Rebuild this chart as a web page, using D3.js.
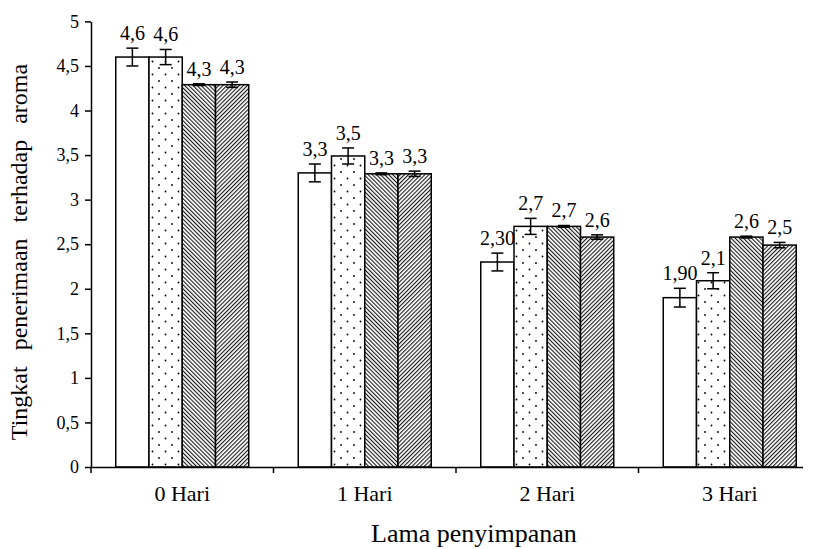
<!DOCTYPE html>
<html><head><meta charset="utf-8">
<script src="https://cdn.jsdelivr.net/npm/d3@7/dist/d3.min.js"></script>
<style>
html,body{margin:0;padding:0;background:#fff;}
svg{display:block;font-family:"Liberation Serif","Times New Roman",serif;}
</style></head>
<body>
<svg id="chart" width="813" height="549"></svg>
<script>
// ---- data ----
const categories = ["0 Hari", "1 Hari", "2 Hari", "3 Hari"];
const seriesNames = ["A", "B", "C", "D"];
const seriesA = [4.60, 3.30, 2.30, 1.90];
const seriesB = [4.60, 3.49, 2.70, 2.09];
const seriesC = [4.29, 3.29, 2.70, 2.58];
const seriesD = [4.29, 3.29, 2.58, 2.49];
const errorA = [0.10, 0.10, 0.10, 0.105];
const errorB = [0.085, 0.09, 0.09, 0.09];
const errorC = [0.01, 0.01, 0.01, 0.01];
const errorD = [0.03, 0.03, 0.025, 0.03];
const labelA = ["4,6", "3,3", "2,30", "1,90"];
const labelB = ["4,6", "3,5", "2,7", "2,1"];
const labelC = ["4,3", "3,3", "2,7", "2,6"];
const labelD = ["4,3", "3,3", "2,6", "2,5"];
const yTicks = [0, 0.5, 1, 1.5, 2, 2.5, 3, 3.5, 4, 4.5, 5];
const yTickLabels = ["0", "0,5", "1", "1,5", "2", "2,5", "3", "3,5", "4", "4,5", "5"];
const yTitle = "Tingkat  penerimaan  terhadap  aroma";
const xTitle = "Lama penyimpanan";

const values = [seriesA, seriesB, seriesC, seriesD];
const errors = [errorA, errorB, errorC, errorD];
const labels = [labelA, labelB, labelC, labelD];

const svg = d3.select("#chart");
const defs = svg.append("defs");

// patterns
const pDots = defs.append("pattern").attr("id", "pDots").attr("patternUnits", "userSpaceOnUse")
  .attr("width", 13).attr("height", 13);
pDots.append("rect").attr("width", 13).attr("height", 13).attr("fill", "#fff");
pDots.append("circle").attr("cx", 3).attr("cy", 3).attr("r", 0.9).attr("fill", "#000");
pDots.append("circle").attr("cx", 9.5).attr("cy", 9.5).attr("r", 0.9).attr("fill", "#000");

function hatch(id, angle) {
  const p = defs.append("pattern").attr("id", id).attr("patternUnits", "userSpaceOnUse")
    .attr("width", 2.9).attr("height", 10).attr("patternTransform", `rotate(${angle})`);
  p.append("rect").attr("width", 2.9).attr("height", 10).attr("fill", "#fff");
  p.append("line").attr("x1", 0.6).attr("x2", 0.6).attr("y1", 0).attr("y2", 10)
    .attr("stroke", "#000").attr("stroke-width", 1);
}
hatch("pBack", -45);
hatch("pFwd", 45);
const fills = ["#fff", "url(#pDots)", "url(#pBack)", "url(#pFwd)"];

const clip = defs.append("clipPath").attr("id", "clipR");
clip.append("rect").attr("x", 0).attr("y", 0).attr("width", 803).attr("height", 549);

// scales
const x0 = d3.scaleBand().domain(categories).range([91, 821]).paddingInner(0).paddingOuter(0);
const x1 = d3.scaleBand().domain(seriesNames).range([24.75, x0.bandwidth() - 24.75]).padding(0);
const y = d3.scaleLinear().domain([0, 5]).range([467, 21.4]);

const g = svg.append("g").attr("clip-path", "url(#clipR)");

const items = [];
categories.forEach((c, ci) => {
  seriesNames.forEach((s, si) => {
    items.push({c, s, si, v: values[si][ci], e: errors[si][ci], l: labels[si][ci]});
  });
});

// bars
g.selectAll(".bar").data(items).join("rect")
  .attr("x", d => x0(d.c) + x1(d.s))
  .attr("y", d => y(d.v))
  .attr("width", x1.bandwidth())
  .attr("height", d => y(0) - y(d.v))
  .attr("fill", d => fills[d.si])
  .attr("stroke", "#000").attr("stroke-width", 1.5);

// error bars
const cx = d => x0(d.c) + x1(d.s) + x1.bandwidth() / 2;
const eb = g.selectAll(".eb").data(items).join("g").attr("fill", "none").attr("stroke", "#000").attr("stroke-width", 1.5);
eb.append("line").attr("x1", cx).attr("x2", cx).attr("y1", d => y(d.v + d.e)).attr("y2", d => y(d.v - d.e));
eb.append("line").attr("x1", d => cx(d) - 6).attr("x2", d => cx(d) + 6).attr("y1", d => y(d.v + d.e)).attr("y2", d => y(d.v + d.e));
eb.append("line").attr("x1", d => cx(d) - 6).attr("x2", d => cx(d) + 6).attr("y1", d => y(d.v - d.e)).attr("y2", d => y(d.v - d.e));

// data labels
svg.selectAll(".dl").data(items).join("text")
  .attr("x", cx).attr("y", d => y(d.v + d.e) - 8)
  .attr("text-anchor", "middle").attr("font-size", 20).attr("fill", "#000")
  .text(d => d.l);

// y axis
const yAxis = d3.axisLeft(y).tickValues(yTicks).tickSize(6).tickSizeOuter(0)
  .tickFormat((d, i) => yTickLabels[i]);
const ya = svg.append("g").attr("transform", "translate(91,0)").call(yAxis);
ya.select(".domain").attr("stroke", "#000").attr("stroke-width", 1.5);
ya.selectAll(".tick line").attr("stroke", "#000").attr("stroke-width", 1.5);
ya.selectAll(".tick text").attr("font-size", 18).attr("font-family", "Liberation Serif").attr("fill", "#000").attr("x", -12);

// x axis
const xa = svg.append("g").attr("clip-path", "url(#clipR)");
const xAxis = d3.axisBottom(x0).tickSize(0).tickSizeOuter(0);
const xg = xa.append("g").attr("transform", "translate(0,467)").call(xAxis);
xg.select(".domain").attr("stroke", "#000").attr("stroke-width", 1.5);
xg.selectAll(".tick text").attr("font-size", 22).attr("font-family", "Liberation Serif").attr("fill", "#000").attr("dy", 0).attr("y", 34);
// boundary ticks
const bounds = categories.map(c => x0(c));
xa.selectAll(".bt").data(bounds).join("line")
  .attr("x1", d => d).attr("x2", d => d).attr("y1", 467).attr("y2", 473)
  .attr("stroke", "#000").attr("stroke-width", 1.5);

// titles
svg.append("text").attr("x", 474).attr("y", 542).attr("text-anchor", "middle")
  .attr("font-size", 26).attr("fill", "#000").style("white-space", "pre").text(xTitle);
svg.append("text").attr("transform", "translate(27,252) rotate(-90)").attr("text-anchor", "middle")
  .attr("font-size", 24).attr("fill", "#000").attr("word-spacing", 2).style("white-space", "pre").text(yTitle);
</script>
</body></html>
